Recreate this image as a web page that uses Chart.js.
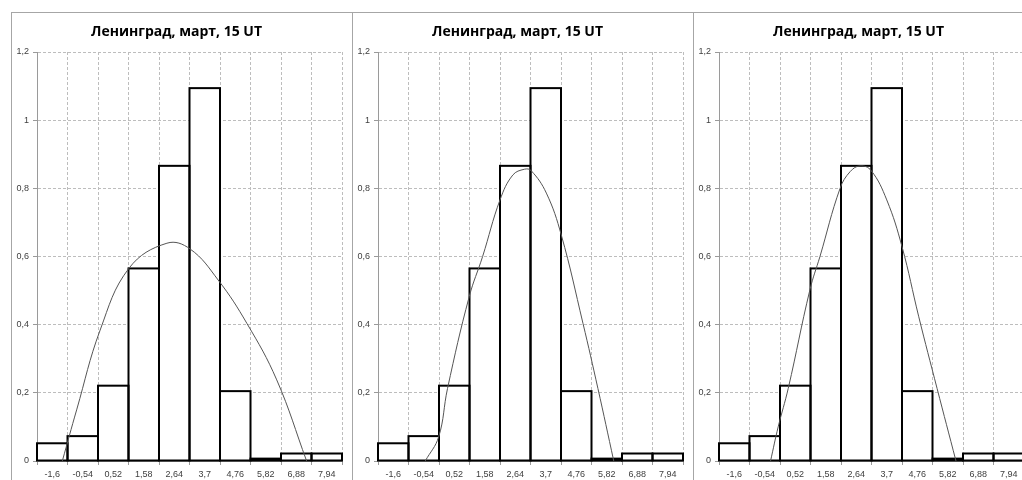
<!DOCTYPE html>
<html>
<head>
<meta charset="utf-8">
<script src="https://cdn.jsdelivr.net/npm/chart.js@4"></script>
<style>
  html, body { margin:0; padding:0; background:#fff; width:1022px; height:480px; overflow:hidden; }
  .vline { position:absolute; top:12px; width:1px; height:468px; background:#a6a6a6; }
  .hline { position:absolute; top:12px; left:11px; width:1011px; height:1px; background:#a6a6a6; }
  canvas { position:absolute; top:12px; }
</style>
</head>
<body>
<div class="hline"></div>
<div class="vline" style="left:11px"></div>
<div class="vline" style="left:352px"></div>
<div class="vline" style="left:693px"></div>
<canvas id="c1" width="341" height="468" style="left:11px"></canvas>
<canvas id="c2" width="341" height="468" style="left:352px"></canvas>
<canvas id="c3" width="341" height="468" style="left:693px"></canvas>
<script>
const titleText = 'Ленинград, март, 15 UT';
const categories = ['-1,6','-0,54','0,52','1,58','2,64','3,7','4,76','5,82','6,88','7,94'];
const barValues = [0.052,0.073,0.221,0.565,0.866,1.094,0.205,0.007,0.022,0.022];
const yTickLabels = ['0','0,2','0,4','0,6','0,8','1','1,2'];

// curve positions in category units (0 = left edge of first bin, 10 = right edge of last)
const curve1Pos = [0.83,1.30,2.07,3.02,4.26,5.02,5.94,6.88,7.86,8.84];
const curve1Val = [0,0.15,0.384,0.566,0.639,0.622,0.531,0.404,0.238,0];
const curve2Pos = [1.55,1.99,2.28,2.99,3.43,4.0,4.42,4.80,5.02,5.52,6.01,6.72,7.21,7.73];
const curve2Val = [0,0.071,0.213,0.482,0.6,0.766,0.839,0.856,0.852,0.786,0.663,0.404,0.213,0];
const curve3Pos = [1.69,1.94,2.27,2.98,3.31,3.97,4.3,4.63,4.99,5.5,6.0,6.55,7.15,7.77];
const curve3Val = [0,0.10,0.213,0.502,0.6,0.80,0.849,0.866,0.852,0.766,0.629,0.423,0.213,0];

const gridColor = '#bdbdbd';
const axisColor = '#9a9a9a';
const tickFont = { family: 'Liberation Sans', size: 9 };

const barOutline = {
  id: 'barOutline',
  afterDatasetDraw(chart, args) {
    if (args.index !== 0) return;
    const ctx = chart.ctx;
    ctx.save();
    ctx.strokeStyle = '#000';
    ctx.lineWidth = 2;
    ctx.setLineDash([]);
    args.meta.data.forEach(bar => {
      const p = bar.getProps(['x','y','base','width'], true);
      ctx.strokeRect(p.x - p.width/2, p.y, p.width, p.base - p.y);
    });
    ctx.restore();
  }
};

function makeChart(id, pos, val) {
  const pts = pos.map((x, i) => ({ x: x, y: val[i] }));
  new Chart(document.getElementById(id), {
    type: 'bar',
    data: {
      labels: categories,
      datasets: [
        {
          data: barValues,
          backgroundColor: '#ffffff',
          borderWidth: 0,
          barPercentage: 1,
          categoryPercentage: 1,
          grouped: false,
          xAxisID: 'x', yAxisID: 'y',
          order: 2
        },
        {
          type: 'line',
          data: pts,
          xAxisID: 'xl', yAxisID: 'y',
          borderColor: '#555555',
          borderWidth: 1,
          pointRadius: 0,
          tension: 0.4,
          fill: false,
          order: 1
        }
      ]
    },
    options: {
      responsive: false,
      animation: false,
      devicePixelRatio: 1,
      layout: { padding: { left: 0, right: 10, top: 0, bottom: 0 } },
      plugins: {
        legend: { display: false },
        tooltip: { enabled: false },
        title: {
          display: true,
          text: titleText,
          color: '#000',
          font: { family: 'Open Sans', size: 14, weight: 'bold', lineHeight: 1.2 },
          padding: { top: 11.5, bottom: 11.7 }
        }
      },
      scales: {
        x: {
          type: 'category',
          position: 'bottom',
          offset: true,
          grid: {
            offset: true,
            color: gridColor,
            drawTicks: true,
            tickLength: 4,
            tickColor: axisColor,
            tickBorderDash: []
          },
          border: { display: true, color: axisColor, width: 1, dash: [3, 2] },
          ticks: { color: '#404040', font: tickFont, padding: 4, maxRotation: 0, autoSkip: false },
          afterFit(s) { s.height = 19; }
        },
        xl: {
          type: 'linear',
          position: 'bottom',
          display: false,
          min: 0, max: 10,
          offset: false
        },
        y: {
          type: 'linear',
          min: 0, max: 1.2,
          ticks: {
            stepSize: 0.2,
            color: '#404040',
            font: tickFont,
            padding: 4,
            callback: (v, i) => yTickLabels[i]
          },
          grid: {
            color: gridColor,
            drawTicks: true,
            tickLength: 4,
            tickColor: axisColor,
            tickBorderDash: []
          },
          border: { display: true, color: axisColor, width: 1, dash: [3, 2] },
          afterFit(s) { s.width = 26; }
        }
      }
    },
    plugins: [barOutline]
  });
}

makeChart('c1', curve1Pos, curve1Val);
makeChart('c2', curve2Pos, curve2Val);
makeChart('c3', curve3Pos, curve3Val);
</script>
</body>
</html>
